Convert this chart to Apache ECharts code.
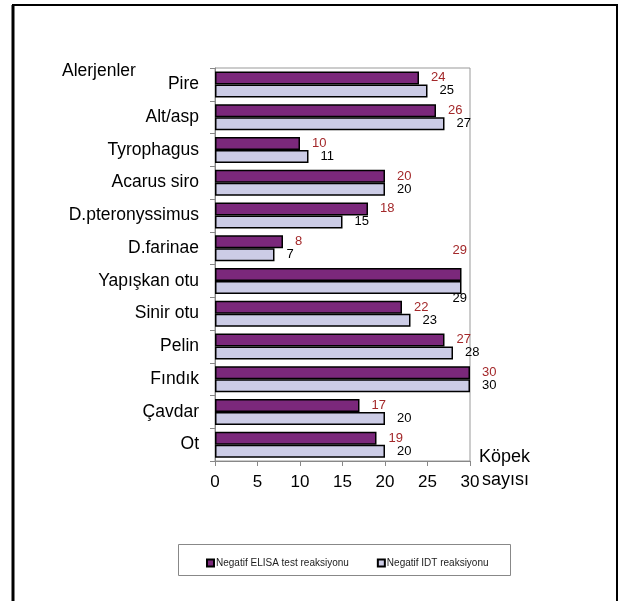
<!DOCTYPE html>
<html><head><meta charset="utf-8">
<script src="https://cdn.jsdelivr.net/npm/echarts@6/dist/echarts.min.js"></script>
<style>html,body{margin:0;padding:0;background:#fff}#c{width:618px;height:601px}</style>
</head><body><div id="c"></div>
<script>
var categories = ['Pire','Alt/asp','Tyrophagus','Acarus siro','D.pteronyssimus','D.farinae','Yapışkan otu','Sinir otu','Pelin','Fındık','Çavdar','Ot'];
var elisaValues = [24,26,10,20,18,8,29,22,27,30,17,19];
var idtValues = [25,27,11,20,15,7,29,23,28,30,20,20];
var xTicks = [0,5,10,15,20,25,30];
var seriesNames = ['Negatif ELISA test reaksiyonu','Negatif IDT reaksiyonu'];

var FONT = 'Liberation Sans, Arial, sans-serif';
function mk(vals, specialIdx, offset){
  return vals.map(function(v,i){
    if(i===specialIdx) return {value:v, label:{offset:offset}};
    return v;
  });
}
var chart = echarts.init(document.getElementById('c'));
chart.setOption({
  animation:false,
  backgroundColor:'#fff',
  grid:{left:215, top:68, width:255, height:393, show:true, borderColor:'#999', borderWidth:1, backgroundColor:'transparent'},
  legend:{show:true, left:201, top:553, itemWidth:7, itemHeight:7, itemGap:28,
    textStyle:{fontFamily:FONT, fontSize:10, color:'#222', padding:[0,0,0,-3]},
    data:[{name:seriesNames[0], icon:'rect'},{name:seriesNames[1], icon:'rect'}]},
  xAxis:{type:'value', min:0, max:30, interval:5,
    axisLine:{show:true, lineStyle:{color:'#888', width:1}},
    axisTick:{show:true, length:5, lineStyle:{color:'#888'}},
    splitLine:{show:false},
    axisLabel:{fontFamily:FONT, fontSize:17, color:'#000', margin:13}},
  yAxis:{type:'category', inverse:true, data:categories,
    axisLine:{show:true, lineStyle:{color:'#888', width:1}},
    axisTick:{show:true, length:5, lineStyle:{color:'#888'}},
    axisLabel:{fontFamily:FONT, fontSize:17.5, color:'#000', margin:16}},
  series:[
    {name:seriesNames[0], type:'bar', data:mk(elisaValues,6,[-21,-24]), barWidth:13, barGap:'0%',
      itemStyle:{color:'#7B287B', borderColor:'#000', borderWidth:1.5},
      label:{show:true, position:'right', distance:12, fontFamily:FONT, fontSize:13, color:'#A3282A'}},
    {name:seriesNames[1], type:'bar', data:mk(idtValues,6,[-21,11]), barWidth:13, barGap:'0%',
      itemStyle:{color:'#CCCCE6', borderColor:'#000', borderWidth:1.5},
      label:{show:true, position:'right', distance:12, fontFamily:FONT, fontSize:13, color:'#000'}}
  ],
  graphic:[
    {type:'rect', shape:{x:13, y:5, width:604, height:600}, style:{fill:'none', stroke:'#000', lineWidth:2}, z:-1},
    {type:'line', shape:{x1:13, y1:5, x2:13, y2:601}, style:{stroke:'#000', lineWidth:3}},
    {type:'rect', shape:{x:178.5, y:544.5, width:332, height:31}, style:{fill:'none', stroke:'#888', lineWidth:1}},
    {type:'text', left:62, top:62, style:{text:'Alerjenler', fontFamily:FONT, fontSize:17.5, fill:'#000'}},
    {type:'text', left:479, top:448, style:{text:'Köpek', fontFamily:FONT, fontSize:18, fill:'#000'}},
    {type:'text', left:482, top:471, style:{text:'sayısı', fontFamily:FONT, fontSize:18, fill:'#000'}}
  ]
});
</script></body></html>
